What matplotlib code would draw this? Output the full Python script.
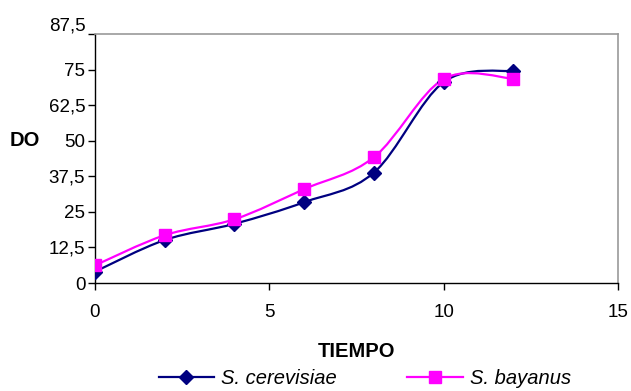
import matplotlib
matplotlib.use("Agg")
import matplotlib.pyplot as plt
from matplotlib.path import Path
from matplotlib.patches import PathPatch
from matplotlib.lines import Line2D
from matplotlib.transforms import ScaledTranslation
import numpy as np

plt.rcParams['font.family'] = ['Liberation Sans', 'DejaVu Sans']

tiempo = [0, 2, 4, 6, 8, 10, 12]
cerevisiae = [4.0, 15.1, 20.8, 28.4, 38.8, 70.6, 74.6]
bayanus = [6.2, 16.8, 22.4, 33.0, 44.2, 71.7, 71.8]
yticks = [0, 12.5, 25, 37.5, 50, 62.5, 75, 87.5]
ytick_labels = ["0", "12,5", "25", "37,5", "50", "62,5", "75", "87,5"]
xticks = [0, 5, 10, 15]

NAVY = "#000080"
MAG = "#FF00FF"

fig = plt.figure(figsize=(6.31, 3.91), dpi=100)
ax = fig.add_axes([95/631, 1-283/391, (618-95)/631, (283-34)/391])


def smooth_path(xs, ys):
    pts = np.column_stack([xs, ys]).astype(float)
    n = len(pts)
    verts = [pts[0]]
    codes = [Path.MOVETO]
    for i in range(n - 1):
        p0 = pts[i - 1] if i > 0 else pts[i]
        p1 = pts[i]
        p2 = pts[i + 1]
        p3 = pts[i + 2] if i + 2 < n else pts[i + 1]
        c1 = p1 + (p2 - p0) / 6.0
        c2 = p2 - (p3 - p1) / 6.0
        verts += [c1, c2, p2]
        codes += [Path.CURVE4] * 3
    return Path(verts, codes)


for ys, col, mk, ms in [(cerevisiae, NAVY, 'D', 7), (bayanus, MAG, 's', 8.5)]:
    patch = PathPatch(smooth_path(tiempo, ys), facecolor='none', edgecolor=col,
                      lw=1.6, zorder=2)
    ax.add_patch(patch)
    ax.plot(tiempo, ys, linestyle='none', marker=mk, markersize=ms,
            color=col, markeredgecolor=col, zorder=3)

ax.set_xlim(0, 15)
ax.set_ylim(0, 87.5)
ax.set_xticks(xticks)
ax.set_xticklabels([str(v) for v in xticks])
ax.set_yticks(yticks)
ax.set_yticklabels(ytick_labels)

for s in ['left', 'bottom']:
    ax.spines[s].set_color('black')
    ax.spines[s].set_linewidth(1.0)
for s in ['top', 'right']:
    ax.spines[s].set_color('#999999')
    ax.spines[s].set_linewidth(1.2)

ax.tick_params(axis='both', direction='out', length=5, width=1.0, labelsize=13.5, colors='black')
ax.tick_params(axis='x', pad=10)
ax.tick_params(axis='y', pad=2)

# top label sits a little above its tick in the original
toplab = ax.get_yticklabels()[-1]
toplab.set_transform(toplab.get_transform() + ScaledTranslation(0, 10/100, fig.dpi_scale_trans))

ax.set_xlabel("TIEMPO", fontsize=14.5, fontweight='bold', labelpad=15)
ax.set_ylabel("DO", fontsize=14.5, fontweight='bold', rotation=0, va='center', ha='center')
ax.yaxis.set_label_coords(-0.134, 0.574)

handles = [
    Line2D([], [], color=NAVY, lw=1.6, marker='D', markersize=7),
    Line2D([], [], color=MAG, lw=1.6, marker='s', markersize=8.5),
]
labels = ["S. cerevisiae", "S. bayanus"]
leg = fig.legend(handles, labels, loc='center', bbox_to_anchor=(0.578, 0.032), ncol=2,
                 frameon=False, fontsize=14.5, handlelength=2.75, columnspacing=3.5,
                 handletextpad=0.35, borderpad=0)
for t in leg.get_texts():
    t.set_fontstyle('italic')

fig.savefig("out.png", dpi=100)
